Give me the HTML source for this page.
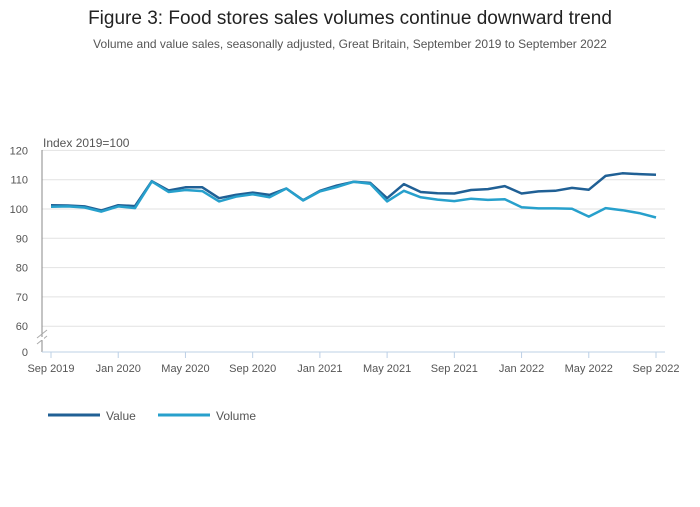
<!DOCTYPE html>
<html><head><meta charset="utf-8"><style>
body{margin:0;background:#fff;font-family:"Liberation Sans",sans-serif;}
svg text{font-family:"Liberation Sans",sans-serif;}
</style></head><body>
<svg width="700" height="502">
<text x="350" y="24" text-anchor="middle" font-size="19" fill="#222">Figure 3: Food stores sales volumes continue downward trend</text>
<text x="350" y="48" text-anchor="middle" font-size="12" fill="#555">Volume and value sales, seasonally adjusted, Great Britain, September 2019 to September 2022</text>
<text x="43" y="147" font-size="12" fill="#555">Index 2019=100</text>
<g id="grid"></g><g id="lines"></g>
<line x1="42" y1="150" x2="42" y2="352" stroke="#888"/>
<line x1="42" y1="352" x2="665" y2="352" stroke="#bcd0e6"/>
<g stroke="#aaa" stroke-width="1"><line x1="37" y1="338" x2="47" y2="330"/><line x1="37" y1="344" x2="47" y2="336"/></g>
<rect x="40" y="337" width="4" height="3" fill="#fff"/>
<g id="legend">
<line x1="48" y1="415" x2="100" y2="415" stroke="#206095" stroke-width="3"/>
<text x="106" y="420" font-size="12" fill="#555">Value</text>
<line x1="158" y1="415" x2="210" y2="415" stroke="#27a0cc" stroke-width="3"/>
<text x="216" y="420" font-size="12" fill="#555">Volume</text>
</g>
</svg>
<script>
const valueSeries=[101.3,101.2,100.9,99.5,101.3,101.0,109.5,106.3,107.4,107.4,103.7,104.8,105.6,104.8,107.0,103.0,106.2,108.0,109.3,108.9,103.7,108.5,105.8,105.4,105.3,106.5,106.8,107.8,105.3,106.0,106.2,107.2,106.6,111.3,112.2,111.9,111.7];
const volumeSeries=[100.8,100.9,100.5,99.1,100.9,100.3,109.4,105.8,106.5,106.1,102.6,104.2,105.0,104.0,107.0,102.9,106.0,107.5,109.3,108.6,102.6,106.2,104.0,103.2,102.7,103.5,103.1,103.3,100.6,100.2,100.2,100.1,97.4,100.3,99.6,98.6,97.1];
const yTicks=[0,60,70,80,90,100,110,120];
const xTickLabels=["Sep 2019","Jan 2020","May 2020","Sep 2020","Jan 2021","May 2021","Sep 2021","Jan 2022","May 2022","Sep 2022"];
const NS="http://www.w3.org/2000/svg";
function x(i){return 51+i*(605/36);}
function y(v){return v<55?352-v*(26/60):209-(v-100)*2.93;}
const grid=document.getElementById('grid');
yTicks.forEach(t=>{
 if(t>0){const l=document.createElementNS(NS,'line');
 l.setAttribute('x1',42);l.setAttribute('x2',665);l.setAttribute('y1',y(t));l.setAttribute('y2',y(t));l.setAttribute('stroke','#e2e2e2');
 
 
 grid.appendChild(l);}
 const tx=document.createElementNS(NS,'text');
 tx.setAttribute('x',28);tx.setAttribute('y',y(t)+4);tx.setAttribute('text-anchor','end');tx.setAttribute('font-size','11');tx.setAttribute('fill','#555');tx.textContent=t;
 
 
 grid.appendChild(tx);
});
xTickLabels.forEach((s,k)=>{
 const xi=x(k*4);
 const l=document.createElementNS(NS,'line');
 l.setAttribute('x1',xi);l.setAttribute('x2',xi);l.setAttribute('y1',352);l.setAttribute('y2',358);l.setAttribute('stroke','#bcd0e6');
 
 
 grid.appendChild(l);
 const tx=document.createElementNS(NS,'text');
 tx.setAttribute('x',xi);tx.setAttribute('y',372);tx.setAttribute('text-anchor','middle');tx.setAttribute('font-size','11');tx.setAttribute('fill','#555');tx.textContent=s;
 
 
 grid.appendChild(tx);
});
const lines=document.getElementById('lines');
[[valueSeries,'#206095','value-line'],[volumeSeries,'#27a0cc','volume-line']].forEach(([d,c,n])=>{
 const p=document.createElementNS(NS,'path');
 p.setAttribute('d',d.map((v,i)=>(i?'L':'M')+x(i).toFixed(1)+','+y(v).toFixed(1)).join(''));
 p.setAttribute('fill','none');p.setAttribute('stroke',c);p.setAttribute('stroke-width','2.5');p.setAttribute('stroke-linejoin','round');
 
 
 lines.appendChild(p);
});
</script>
</body></html>
